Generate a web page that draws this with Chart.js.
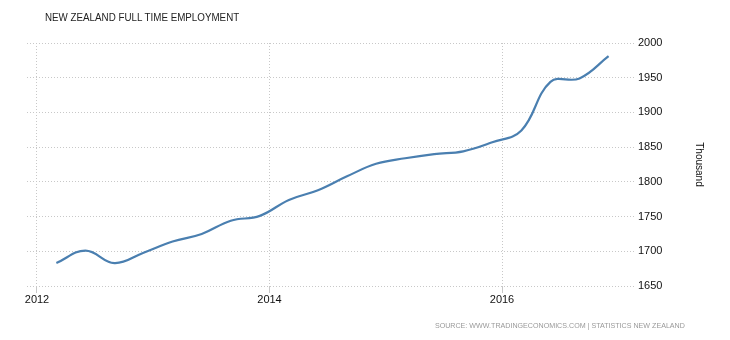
<!DOCTYPE html>
<html>
<head>
<meta charset="utf-8">
<script src="https://cdn.jsdelivr.net/npm/chart.js@4.4.1/dist/chart.umd.min.js"></script>
<style>
  html, body { margin: 0; padding: 0; background: #fff; }
  #wrap { position: relative; width: 730px; height: 340px; }
  #titulo {
    position: absolute; left: 45px; top: 11px;
    font: 11px "Liberation Sans", Arial, sans-serif; color: #222;
    white-space: nowrap; transform: scaleX(0.89); transform-origin: left top;
  }
  #fonte {
    position: absolute; right: 45px; top: 321px;
    font: 8px "Liberation Sans", Arial, sans-serif; color: #999;
    white-space: nowrap; transform: scaleX(0.89); transform-origin: right top;
  }
</style>
</head>
<body>
<div id="wrap">
  <canvas id="grafico" width="730" height="340"></canvas>
  <div id="titulo">NEW ZEALAND FULL TIME EMPLOYMENT</div>
  <div id="fonte">SOURCE: WWW.TRADINGECONOMICS.COM | STATISTICS NEW ZEALAND</div>
</div>
<script>
// ---------------- DADOS ----------------
const trimestres = [
  "2012-03", "2012-06", "2012-09", "2012-12",
  "2013-03", "2013-06", "2013-09", "2013-12",
  "2014-03", "2014-06", "2014-09", "2014-12",
  "2015-03", "2015-06", "2015-09", "2015-12",
  "2016-03", "2016-06", "2016-09", "2016-12"
];
const empregoPleno = [
  1683, 1701, 1683, 1698,
  1714, 1725, 1744, 1751,
  1774, 1788, 1808, 1826,
  1834, 1840, 1844, 1857,
  1874, 1944, 1949, 1981
];
const anosEixo = [2012, 2014, 2016];
const valoresEixo = [1650, 1700, 1750, 1800, 1850, 1900, 1950, 2000];

// "2012-03" -> ano decimal (2012.1667)
function anoDecimal(t) {
  const [a, m] = t.split("-").map(Number);
  return a + (m - 1) / 12;
}

const pontos = trimestres.map((t, i) => ({ x: anoDecimal(t), y: empregoPleno[i] }));

const grade = {
  color: "#c8c8c8",
  lineWidth: 1
};

// ---------------- GRÁFICO ----------------
new Chart(document.getElementById("grafico"), {
  type: "line",
  data: {
    datasets: [{
      data: pontos,
      borderColor: "#4a7fb0",
      borderWidth: 2.2,
      pointRadius: 0,
      tension: 0.4,
      fill: false
    }]
  },
  options: {
    responsive: false,
    animation: false,
    layout: { padding: { left: 27, top: 43, right: 0, bottom: 0 } },
    plugins: {
      legend: { display: false },
      tooltip: { enabled: false }
    },
    scales: {
      x: {
        type: "linear",
        min: 2011.914,
        max: 2017.144,
        afterBuildTicks: (s) => { s.ticks = anosEixo.map(v => ({ value: v })); },
        afterFit: (s) => { s.height = 54; },
        border: { display: false, dash: [1, 2] },
        grid: { ...grade, tickLength: 7 },
        ticks: {
          padding: 0,
          color: "#111",
          maxRotation: 0,
          font: { family: "Liberation Sans", size: 11 },
          callback: (v) => String(v)
        }
      },
      y: {
        position: "right",
        min: 1650,
        max: 2000,
        afterBuildTicks: (s) => { s.ticks = valoresEixo.map(v => ({ value: v })); },
        afterFit: (s) => { s.width = 95; },
        border: { display: false, dash: [1, 2] },
        grid: { ...grade, tickLength: 0 },
        ticks: {
          padding: 3,
          color: "#111",
          font: { family: "Liberation Sans", size: 11 },
          callback: (v) => String(v)
        },
        title: {
          display: true,
          text: "Thousand",
          color: "#111",
          font: { family: "Liberation Sans", size: 10 },
          padding: { top: 25, bottom: 0 }
        }
      }
    }
  }
});
</script>
</body>
</html>
